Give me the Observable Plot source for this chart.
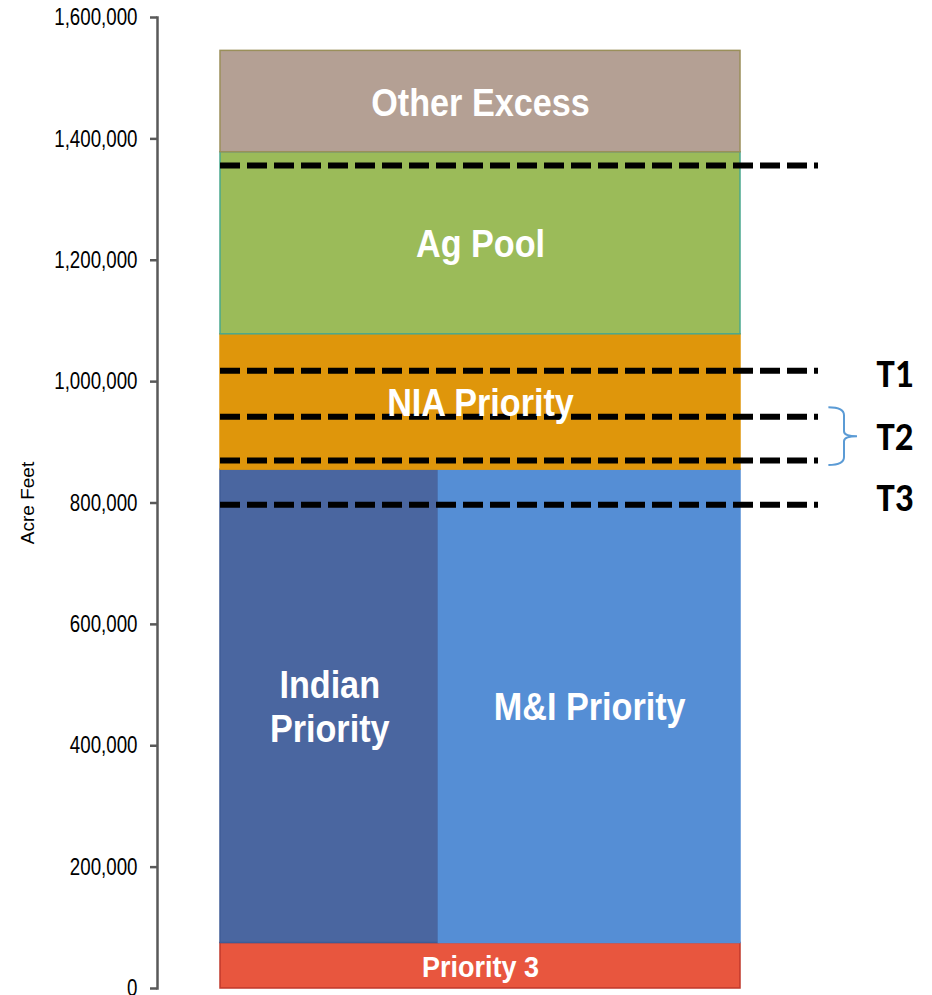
<!DOCTYPE html>
<html>
<head>
<meta charset="utf-8">
<script src="https://cdn.jsdelivr.net/npm/d3@7"></script>
<script src="https://cdn.jsdelivr.net/npm/@observablehq/plot@0.6"></script>
<style>
  html, body { margin: 0; padding: 0; background: #fff; }
  #chart { width: 932px; height: 995px; }
</style>
</head>
<body>
<div id="chart"></div>
<script>
// ---- Data ----
const blockNames  = ["Priority 3", "Indian Priority", "M&I Priority", "NIA Priority", "Ag Pool", "Other Excess"];
const blockLabels = ["Priority 3", "Indian\nPriority", "M&I Priority", "NIA Priority", "Ag Pool", "Other Excess"];
const blockLow    = [0, 75000, 75000, 855000, 1078000, 1378000];
const blockHigh   = [75000, 855000, 855000, 1078000, 1378000, 1545000];
const blockShare  = [1, 0.42, 0.58, 1, 1, 1];          // horizontal share of the column
const blockFill   = ["#e8563e", "#4a66a0", "#558ed5", "#df960b", "#9bbb59", "#b4a094"];
const blockStroke = ["#c0392b", "#3f5c96", "#558ed5", "#df960b", "#4aa88f", "#9a8f5a"];

const lineValues  = [1356000, 1018000, 942000, 870000, 797000];
const tierLabels  = ["T1", "T2", "T3"];
const tierValues  = [1013000, 909000, 808000];
const braceRange  = [942000, 870000];

const yTicks = [0, 200000, 400000, 600000, 800000, 1000000, 1200000, 1400000, 1600000];

// ---- Build tables ----
const blocks = [];
let cum = 0;
let prevLow = null;
blockNames.forEach((name, i) => {
  if (blockLow[i] !== prevLow) cum = 0;
  prevLow = blockLow[i];
  blocks.push({
    name, label: blockLabels[i],
    x1: cum, x2: cum + blockShare[i],
    y1: blockLow[i], y2: blockHigh[i],
    fill: blockFill[i], stroke: blockStroke[i]
  });
  cum += blockShare[i];
});
const lines = lineValues.map(v => ({v}));
const tiers = tierLabels.map((t, i) => ({t, v: tierValues[i]}));

const braceMark = (index, {x, y}) => {
  const ya = y(braceRange[0]) - 9, yb = y(braceRange[1]) + 5;
  const x0 = x(1.17), x1 = x(1.2), x2 = x(1.225);
  const ym = (ya + yb) / 2;
  const p = d3.path();
  p.moveTo(x0, ya);
  p.quadraticCurveTo(x1, ya, x1, ya + 8);
  p.lineTo(x1, ym - 5);
  p.quadraticCurveTo(x1, ym, x2, ym);
  p.quadraticCurveTo(x1, ym, x1, ym + 5);
  p.lineTo(x1, yb - 8);
  p.quadraticCurveTo(x1, yb, x0, yb);
  const el = document.createElementNS("http://www.w3.org/2000/svg", "path");
  el.setAttribute("d", p.toString());
  el.setAttribute("fill", "none");
  el.setAttribute("stroke", "#5b9bd5");
  el.setAttribute("stroke-width", "2");
  return el;
};

const chart = Plot.plot({
  width: 932,
  height: 995,
  marginLeft: 157,
  marginRight: 0,
  marginTop: 17,
  marginBottom: 7,
  style: {fontFamily: "'Liberation Sans', Arial, sans-serif", background: "#fff"},
  x: {domain: [0, 1], range: [220, 740], axis: null},
  y: {domain: [0, 1600000], axis: null},
  marks: [
    Plot.rectY(blocks, {x1: "x1", x2: "x2", y1: "y1", y2: "y2", fill: "fill", stroke: "stroke", strokeWidth: 1.5}),
    Plot.ruleY(lines, {y: "v", x1: 0, x2: 1.15, stroke: "#000", strokeWidth: 6, strokeDasharray: "20,7"}),
    Plot.text(blocks, {
      x: d => (d.x1 + d.x2) / 2, y: d => (d.y1 + d.y2) / 2, text: "label",
      fill: "#fff", fontWeight: "bold",
      fontSize: d => d.name === "Priority 3" ? 30 : 38,
      lineHeight: 1.15, lineAnchor: "middle", className: "blk"
    }),
    Plot.text(tiers, {
      x: 1.297, y: "v", text: "t",
      fill: "#000", fontWeight: "bold", fontSize: 40,
      fontFamily: "Carlito, Lato, 'Open Sans', sans-serif", lineAnchor: "middle", className: "tier"
    }),
    braceMark,
    Plot.frame({anchor: "left", stroke: "#595959", strokeWidth: 2.5}),
    Plot.axisY({
      ticks: yTicks, tickFormat: d3.format(","), tickSize: 7, tickPadding: 13,
      stroke: "#595959", strokeWidth: 2.5, fill: "#000", fontSize: 24,
      label: null, className: "yax"
    }),
    Plot.text(["Acre Feet"], {
      frameAnchor: "left", dx: -130, rotate: -90, text: d => d,
      textAnchor: "middle", fontSize: 19, fill: "#000"
    })
  ]
});

// condense text horizontally (the reference uses a narrow face)
function squeeze(sel, k) {
  d3.select(chart).selectAll(sel).each(function () {
    const t = this.getAttribute("transform") || "";
    this.setAttribute("transform", t + ` scale(${k},1)`);
  });
}
squeeze("g.yax text", 0.78);
squeeze("g.blk text", 0.9);
squeeze("g.tier text", 0.92);

document.getElementById("chart").appendChild(chart);
</script>
</body>
</html>
